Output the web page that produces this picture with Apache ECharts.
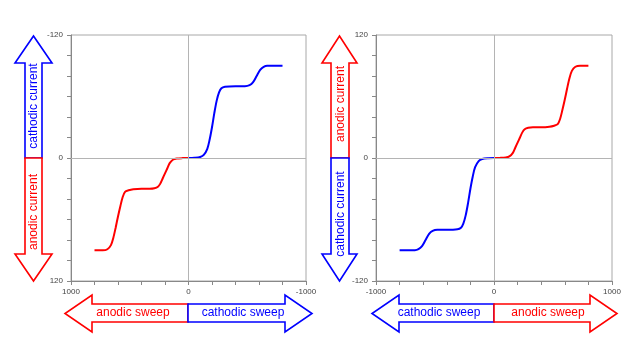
<!DOCTYPE html>
<html><head><meta charset="utf-8">
<script src="https://cdn.jsdelivr.net/npm/echarts@6/dist/echarts.min.js"></script>
<style>html,body{margin:0;padding:0;background:#fff}#c{width:640px;height:360px}</style>
</head><body><div id="c"></div>
<script>
// anodic (red) branch: potential (mV) and current
const anodicE = [0, 50, 100, 130, 160, 180, 200, 220, 240, 260, 290, 330, 400, 470, 510, 540, 560, 580, 600, 620, 640, 660, 690, 730, 800];
const anodicI = [0, 0.1, 0.5, 1.5, 5, 10, 15, 20, 25, 28, 29.5, 30, 30, 30.5, 31.5, 33, 38, 47, 57, 68, 78, 85, 89, 90, 90];
// cathodic (blue) branch
const cathodicE = [0, -50, -100, -130, -160, -180, -200, -220, -240, -260, -280, -310, -400, -480, -520, -550, -580, -610, -640, -670, -720, -800];
const cathodicI = [0, -0.2, -1, -3, -9, -18, -30, -44, -56, -64, -68, -69.5, -70, -70, -71, -74, -80, -86, -89, -90, -90, -90];
// tick labels shown
const xTickLabels = [-1000, 0, 1000];
const yTickLabels = [-120, 0, 120];

const RED = '#ff0000', BLUE = '#0000ff';
const FONT = '"Liberation Sans", Arial, sans-serif';
const pair = (xs, ys) => xs.map((x, i) => [x, ys[i]]);

const chart = echarts.init(document.getElementById('c'), null, {renderer: 'canvas'});

function xAxisFor(idx, inv) {
  return {
    type: 'value', gridIndex: idx, min: -1000, max: 1000, interval: 200, inverse: inv,
    axisLine: {show: true, onZero: false, lineStyle: {color: '#888', width: 1}},
    axisTick: {show: true, length: 4, lineStyle: {color: '#888'}},
    splitLine: {show: false},
    axisLabel: {margin: 7, color: '#444', fontSize: 8, fontFamily: FONT,
      formatter: v => xTickLabels.includes(v) ? String(v) : ''}
  };
}
function yAxisFor(idx, inv) {
  return {
    type: 'value', gridIndex: idx, min: -120, max: 120, interval: 20, inverse: inv,
    axisLine: {show: true, onZero: false, lineStyle: {color: '#888', width: 1}},
    axisTick: {show: true, length: 4, lineStyle: {color: '#888'}},
    splitLine: {show: false},
    axisLabel: {margin: 8, color: '#444', fontSize: 8, fontFamily: FONT,
      formatter: v => yTickLabels.includes(v) ? String(v) : ''}
  };
}
function zeroSeries(idx) {
  return {
    type: 'line', xAxisIndex: idx, yAxisIndex: idx, data: [], z: 1,
    markLine: {silent: true, symbol: 'none', animation: false,
      lineStyle: {color: '#b4b4b4', type: 'solid', width: 1},
      label: {show: false},
      data: [{xAxis: 0}, {yAxis: 0}]}
  };
}
function curve(idx, data, color) {
  return {type: 'line', xAxisIndex: idx, yAxisIndex: idx, data: data, smooth: 0.3,
    showSymbol: false, z: 3, lineStyle: {color: color, width: 2}, itemStyle: {color: color}};
}

// arrow helpers (decorative outlines)
function vHalf(x0, x1, hx0, hx1, tipY, baseY, midY, color) {
  const cx = (hx0 + hx1) / 2;
  return {type: 'polygon', silent: true, z: 10,
    shape: {points: [[x0, midY], [x0, baseY], [hx0, baseY], [cx, tipY], [hx1, baseY], [x1, baseY], [x1, midY]]},
    style: {fill: '#fff', stroke: color, lineWidth: 1.6, lineJoin: 'miter'}};
}
function hHalf(y0, y1, hy0, hy1, tipX, baseX, midX, color) {
  const cy = (hy0 + hy1) / 2;
  return {type: 'polygon', silent: true, z: 10,
    shape: {points: [[midX, y0], [baseX, y0], [baseX, hy0], [tipX, cy], [baseX, hy1], [baseX, y1], [midX, y1]]},
    style: {fill: '#fff', stroke: color, lineWidth: 1.6, lineJoin: 'miter'}};
}
function label(text, x, y, color, rot) {
  return {type: 'text', silent: true, z: 11, x: x, y: y, rotation: rot || 0,
    style: {text: text, fill: color, font: '12px ' + FONT, textAlign: 'center', textVerticalAlign: 'middle'}};
}

const graphics = [
  // left chart vertical arrow
  vHalf(25, 42, 15, 52, 36, 63, 158, BLUE),
  vHalf(25, 42, 15, 52, 281, 254, 158, RED),
  label('cathodic current', 34, 106, BLUE, Math.PI / 2),
  label('anodic current', 34, 212, RED, Math.PI / 2),
  // left chart horizontal arrow
  hHalf(304, 322, 295, 332, 65, 92, 188, RED),
  hHalf(304, 322, 295, 332, 312, 285, 188, BLUE),
  label('anodic sweep', 133, 313, RED),
  label('cathodic sweep', 243, 313, BLUE),
  // right chart vertical arrow
  vHalf(331, 349, 322, 357, 36, 63, 158, RED),
  vHalf(331, 349, 322, 357, 281, 254, 158, BLUE),
  label('anodic current', 340.5, 104, RED, Math.PI / 2),
  label('cathodic current', 340.5, 214, BLUE, Math.PI / 2),
  // right chart horizontal arrow
  hHalf(304, 322, 295, 332, 372, 399, 494, BLUE),
  hHalf(304, 322, 295, 332, 617, 590, 494, RED),
  label('cathodic sweep', 439, 313, BLUE),
  label('anodic sweep', 548, 313, RED)
];

chart.setOption({
  animation: false,
  backgroundColor: '#fff',
  grid: [
    {left: 71, top: 35, width: 235, height: 246, show: true, borderColor: '#a8a8a8', borderWidth: 1, backgroundColor: 'transparent'},
    {left: 376, top: 35, width: 236, height: 246, show: true, borderColor: '#a8a8a8', borderWidth: 1, backgroundColor: 'transparent'}
  ],
  xAxis: [xAxisFor(0, true), xAxisFor(1, false)],
  yAxis: [yAxisFor(0, true), yAxisFor(1, false)],
  series: [
    zeroSeries(0), zeroSeries(1),
    curve(0, pair(anodicE, anodicI), RED),
    curve(0, pair(cathodicE, cathodicI), BLUE),
    curve(1, pair(anodicE, anodicI), RED),
    curve(1, pair(cathodicE, cathodicI), BLUE)
  ],
  graphic: graphics
});
</script>
</body></html>
